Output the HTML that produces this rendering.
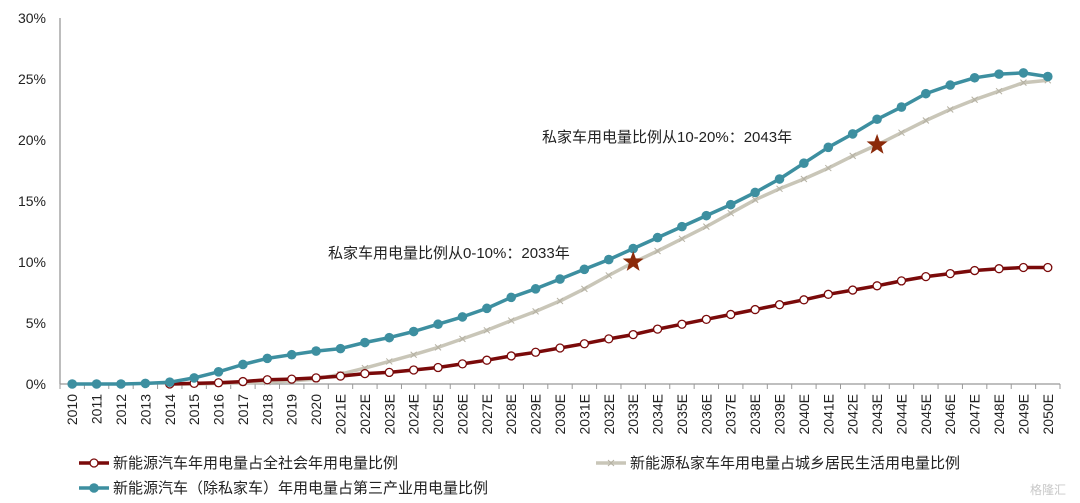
<!DOCTYPE html>
<html><head><meta charset="utf-8">
<style>
html,body{margin:0;padding:0;background:#fff;}
svg{display:block;font-family:"Liberation Sans","Noto Sans CJK SC",sans-serif;}
</style></head>
<body>
<svg id="chart" width="1080" height="503" viewBox="0 0 1080 503" xmlns="http://www.w3.org/2000/svg">
<g id="axes"></g>
<g id="series"></g>
<g id="notes"></g>
<g id="legend"></g>
<text x="1030" y="494" font-size="12" fill="#c8c8c8">格隆汇</text>
</svg>
<script>
const categories = ["2010","2011","2012","2013","2014","2015","2016","2017","2018","2019","2020","2021E","2022E","2023E","2024E","2025E","2026E","2027E","2028E","2029E","2030E","2031E","2032E","2033E","2034E","2035E","2036E","2037E","2038E","2039E","2040E","2041E","2042E","2043E","2044E","2045E","2046E","2047E","2048E","2049E","2050E"];
const yTicks = [0,5,10,15,20,25,30];
const redValues = [null,null,null,null,0,0.05,0.1,0.2,0.35,0.4,0.5,0.65,0.85,0.95,1.15,1.35,1.65,1.95,2.3,2.6,2.95,3.3,3.7,4.05,4.5,4.9,5.3,5.7,6.1,6.5,6.9,7.35,7.7,8.05,8.45,8.8,9.05,9.3,9.45,9.55,9.55];
const grayValues = [null,null,null,null,0,0,0.05,0.1,0.15,0.25,0.4,0.8,1.3,1.85,2.4,3.0,3.7,4.4,5.2,5.95,6.8,7.8,8.9,9.95,10.9,11.9,12.9,14.0,15.1,16.0,16.8,17.7,18.7,19.6,20.6,21.6,22.5,23.3,24.0,24.7,24.9];
const tealValues = [0,0,0,0.05,0.15,0.5,1.0,1.6,2.1,2.4,2.7,2.9,3.4,3.8,4.3,4.9,5.5,6.2,7.1,7.8,8.6,9.4,10.2,11.1,12.0,12.9,13.8,14.7,15.7,16.8,18.1,19.4,20.5,21.7,22.7,23.8,24.5,25.1,25.4,25.5,25.2];
const starCats = ["2033E","2043E"];
const starValues = [10.0,19.6];
const noteTexts = ["私家车用电量比例从0-10%：2033年","私家车用电量比例从10-20%：2043年"];

const NS="http://www.w3.org/2000/svg";
const L=60,R=1060,T=18,B=384,YMAX=30;
const band=(R-L)/categories.length;
const x=i=>L+band*(i+0.5);
const y=v=>B-(v/YMAX)*(B-T);
function mk(tag,attrs,parent){const e=document.createElementNS(NS,tag);for(const k in attrs)e.setAttribute(k,attrs[k]);parent.appendChild(e);return e;}
const axes=document.getElementById('axes'),series=document.getElementById('series'),notes=document.getElementById('notes'),legend=document.getElementById('legend');

// y axis
let e=mk('line',{x1:L,y1:T,x2:L,y2:B,stroke:'#999','stroke-width':1.3},axes);


yTicks.forEach(t=>{
  const tx=mk('text',{x:L-14,y:y(t)+5,'text-anchor':'end','font-size':14,fill:'#222'},axes);
  tx.textContent=t+'%';
  
  
});
// x axis
e=mk('line',{x1:L,y1:B,x2:R,y2:B,stroke:'#999','stroke-width':1.3},axes);


for(let i=0;i<=categories.length;i++){
  const tk=mk('line',{x1:L+band*i,y1:B,x2:L+band*i,y2:B+5,stroke:'#999'},axes);
  
  
}
categories.forEach((c,i)=>{
  const tx=mk('text',{x:0,y:0,'text-anchor':'end','font-size':14,fill:'#222',transform:`translate(${x(i)+5},${B+10}) rotate(-90)`},axes);
  tx.textContent=c;
  
  
});

function drawSeries(vals,color,width,marker,name){
  const g=mk('g',{},series);
  
  
  let d='';
  vals.forEach((v,i)=>{if(v===null)return;d+=(d?'L':'M')+x(i).toFixed(1)+','+y(v).toFixed(1);});
  const p=mk('path',{d:d,fill:'none',stroke:color,'stroke-width':width,'stroke-linejoin':'round'},g);
  
  
  vals.forEach((v,i)=>{
    if(v===null)return;
    let m;
    if(marker==='open'){m=mk('circle',{cx:x(i),cy:y(v),r:4,fill:'#fff',stroke:color,'stroke-width':1.3},g);}
    else if(marker==='dot'){m=mk('circle',{cx:x(i),cy:y(v),r:4.8,fill:color},g);}
    else {const cx=x(i),cy=y(v);m=mk('path',{d:`M${cx-3},${cy-3}L${cx+3},${cy+3}M${cx-3},${cy+3}L${cx+3},${cy-3}`,stroke:'#b5b1a3','stroke-width':1},g);}
    
    
  });
}
drawSeries(grayValues,'#c9c6b8',3.5,'x','gray-series');
drawSeries(redValues,'#7a0a0a',3.5,'open','red-series');
drawSeries(tealValues,'#3d8fa0',3.5,'dot','teal-series');

function star(cx,cy,ro,ri){let d='';for(let k=0;k<10;k++){const r=k%2?ri:ro;const a=-Math.PI/2+k*Math.PI/5;d+=(k?'L':'M')+(cx+r*Math.cos(a)).toFixed(1)+','+(cy+r*Math.sin(a)).toFixed(1);}return d+'Z';}
starCats.forEach((c,k)=>{
  const i=categories.indexOf(c);
  const s=mk('path',{d:star(x(i),y(starValues[k]),11,4.5),fill:'#8b2a0a'},notes);
  
  
});
const n1=mk('text',{x:328,y:258,'font-size':15,fill:'#222'},notes);n1.textContent=noteTexts[0];


const n2=mk('text',{x:542,y:142,'font-size':15,fill:'#222'},notes);n2.textContent=noteTexts[1];



// legend
function legendEntry(lx,ly,color,marker,label,name){
  const g=mk('g',{},legend);
  
  
  mk('line',{x1:lx,y1:ly,x2:lx+30,y2:ly,stroke:color,'stroke-width':3.5},g);
  if(marker==='open')mk('circle',{cx:lx+15,cy:ly,r:4,fill:'#fff',stroke:color,'stroke-width':1.3},g);
  else if(marker==='dot')mk('circle',{cx:lx+15,cy:ly,r:4.8,fill:color},g);
  else mk('path',{d:`M${lx+12},${ly-3}L${lx+18},${ly+3}M${lx+12},${ly+3}L${lx+18},${ly-3}`,stroke:'#b5b1a3'},g);
  const t=mk('text',{x:lx+34,y:ly+5,'font-size':15,fill:'#222'},g);t.textContent=label;
}
legendEntry(79,463,'#7a0a0a','open','新能源汽车年用电量占全社会年用电量比例','legend-red');
legendEntry(596,463,'#c9c6b8','x','新能源私家车年用电量占城乡居民生活用电量比例','legend-gray');
legendEntry(79,488,'#3d8fa0','dot','新能源汽车（除私家车）年用电量占第三产业用电量比例','legend-teal');
</script>
</body></html>
